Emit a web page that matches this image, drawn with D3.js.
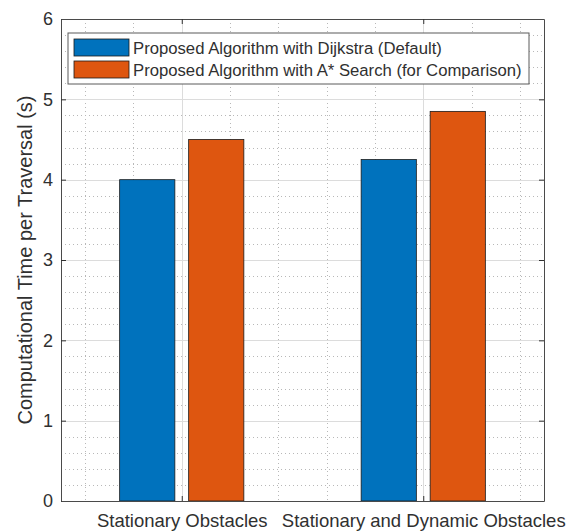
<!DOCTYPE html>
<html>
<head>
<meta charset="utf-8">
<script src="https://cdn.jsdelivr.net/npm/d3@7"></script>
<style>
	html, body { margin: 0; padding: 0; background: #fff; }
	svg { display: block; font-family: "Liberation Sans", Arial, Helvetica, sans-serif; }
</style>
</head>
<body>
<div id="chart"></div>
<script>
// values
const categories = ["Stationary Obstacles", "Stationary and Dynamic Obstacles"];
const seriesNames = [
	"Proposed Algorithm with Dijkstra (Default)",
	"Proposed Algorithm with A* Search (for Comparison)"
];
const dijkstra = [4.0, 4.25];
const astar = [4.5, 4.85];
const yTicks = [0, 1, 2, 3, 4, 5, 6];
const yLabel = "Computational Time per Traversal (s)";

const colors = ["#0072BD", "#DE5610"];
const ink = "#303030";

const W = 569, H = 531;
const box = {left: 61, right: 544, top: 19, bottom: 501};

const x = d3.scaleLinear().domain([0.5, categories.length + 0.5]).range([box.left, box.right]);
const y = d3.scaleLinear().domain([0, 6]).range([box.bottom, box.top]);

// matlab grouped bar geometry for 2 series
const groupWidth = Math.min(0.8, 2 / (2 + 1.5));
const barWidth = 0.8 * groupWidth / 2;
const offsets = [-groupWidth / 4, groupWidth / 4];

const svg = d3.select("#chart")
	.append("svg")
	.attr("width", W)
	.attr("height", H)
	.attr("viewBox", [0, 0, W, H]);

// grid
const minorY = d3.range(0, 6.0001, 0.2).map(v => +v.toFixed(1)).filter(v => !yTicks.includes(v));
const majorX = categories.map((c, i) => i + 1);
const minorX = d3.range(0.6, 2.4001, 0.2).map(v => +v.toFixed(1)).filter(v => !majorX.includes(v));

const grid = svg.append("g").attr("shape-rendering", "crispEdges");

grid.selectAll(".my")
	.data(minorY)
	.join("line")
	.attr("x1", box.left).attr("x2", box.right)
	.attr("y1", d => Math.round(y(d)) + 0.5).attr("y2", d => Math.round(y(d)) + 0.5)
	.attr("stroke", "#b8b8b8")
	.attr("stroke-dasharray", "1 3");

grid.selectAll(".mx")
	.data(minorX)
	.join("line")
	.attr("y1", box.top).attr("y2", box.bottom)
	.attr("x1", d => Math.round(x(d)) + 0.5).attr("x2", d => Math.round(x(d)) + 0.5)
	.attr("stroke", "#b8b8b8")
	.attr("stroke-dasharray", "1 3");

grid.selectAll(".gy")
	.data(yTicks.slice(1, -1))
	.join("line")
	.attr("x1", box.left).attr("x2", box.right)
	.attr("y1", d => Math.round(y(d)) + 0.5).attr("y2", d => Math.round(y(d)) + 0.5)
	.attr("stroke", "#dcdcdc");

grid.selectAll(".gx")
	.data(majorX)
	.join("line")
	.attr("y1", box.top).attr("y2", box.bottom)
	.attr("x1", d => Math.round(x(d)) + 0.5).attr("x2", d => Math.round(x(d)) + 0.5)
	.attr("stroke", "#dcdcdc");

// bars
[dijkstra, astar].forEach((vals, s) => {
	svg.append("g")
		.selectAll("rect")
		.data(vals)
		.join("rect")
		.attr("x", (d, i) => x(i + 1 + offsets[s] - barWidth / 2))
		.attr("width", x(barWidth) - x(0))
		.attr("y", d => y(d))
		.attr("height", d => y(0) - y(d))
		.attr("fill", colors[s])
		.attr("stroke", "#1a1a1a")
		.attr("stroke-width", 0.8);
});

// axes
const axisLeft = d3.axisLeft(y).tickValues(yTicks).tickFormat(d3.format("d"))
	.tickSizeInner(-5).tickSizeOuter(0).tickPadding(8);
const axisRight = d3.axisRight(y).tickValues(yTicks).tickFormat("")
	.tickSizeInner(-5).tickSizeOuter(0);
const axisBottom = d3.axisBottom(x).tickValues(majorX).tickFormat((d, i) => categories[i])
	.tickSizeInner(-5).tickSizeOuter(0).tickPadding(13);
const axisTop = d3.axisTop(x).tickValues(majorX).tickFormat("")
	.tickSizeInner(-5).tickSizeOuter(0);

const styleAxis = (g, size) => {
	g.select(".domain").attr("stroke", "#4a4a4a");
	g.selectAll(".tick line").attr("stroke", ink);
	g.selectAll(".tick text").attr("fill", ink).attr("font-size", size).attr("font-family", null);
};

svg.append("g").attr("transform", `translate(${box.left},0)`).call(axisLeft).call(styleAxis, 18);
svg.append("g").attr("transform", `translate(${box.right},0)`).call(axisRight).call(styleAxis, 18);
svg.append("g").attr("transform", `translate(0,${box.bottom})`).call(axisBottom).call(styleAxis, 18.5);
svg.append("g").attr("transform", `translate(0,${box.top})`).call(axisTop).call(styleAxis, 18);

svg.append("text")
	.attr("transform", `translate(32,${(box.top + box.bottom) / 2}) rotate(-90)`)
	.attr("text-anchor", "middle")
	.attr("font-size", 20)
	.attr("fill", ink)
	.text(yLabel);

// legend
const legend = svg.append("g").attr("transform", "translate(68,33)");
legend.append("rect")
	.attr("width", 461).attr("height", 51)
	.attr("fill", "#fff")
	.attr("stroke", "#5a5a5a")
	.attr("stroke-width", 1);

const rows = legend.selectAll("g.row")
	.data(seriesNames)
	.join("g")
	.attr("class", "row")
	.attr("transform", (d, i) => `translate(6,${6 + i * 22})`);

rows.append("rect")
	.attr("width", 55).attr("height", 17)
	.attr("fill", (d, i) => colors[i])
	.attr("stroke", "#1a1a1a")
	.attr("stroke-width", 0.8);

rows.append("text")
	.attr("x", 59)
	.attr("y", 14.5)
	.attr("font-size", 16.7)
	.attr("fill", ink)
	.text(d => d);
</script>
</body>
</html>
